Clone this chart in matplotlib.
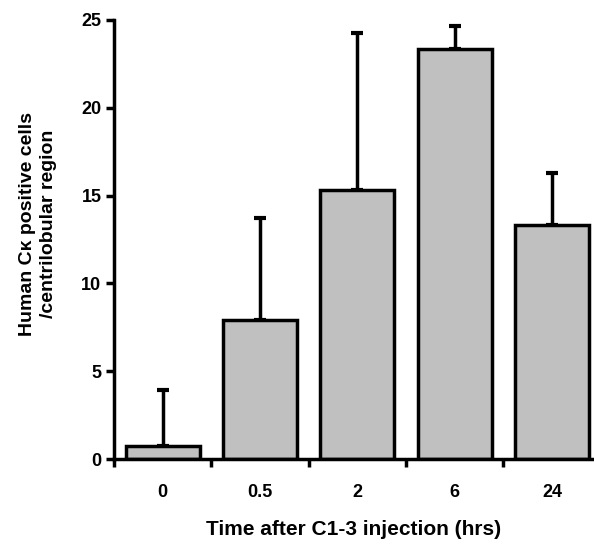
import numpy as np
import matplotlib
matplotlib.use("Agg")
import matplotlib.pyplot as plt

plt.rcParams['font.family'] = ['Liberation Sans', 'DejaVu Sans']

# data
times = ["0", "0.5", "2", "6", "24"]
means = [0.76, 7.9, 15.3, 23.35, 13.3]
upper = [3.93, 13.7, 24.25, 24.65, 16.27]

errs = np.array(upper) - np.array(means)
x = np.arange(len(times))

fig = plt.figure(figsize=(5.94, 5.49), dpi=100)
ax = fig.add_axes([114/594, 90/549, 480/594, 439/549])

ax.bar(x, means, width=0.76, color="#c0c0c0", edgecolor="black", linewidth=2.5, zorder=2)
ax.errorbar(x, means, yerr=[np.zeros(len(x)), errs], fmt="none", ecolor="black",
            elinewidth=2.5, capsize=4.5, capthick=3, zorder=1)

ax.set_xlim(-0.5, 4.43)
ax.set_ylim(0, 25)
ax.set_yticks([0, 5, 10, 15, 20, 25])

ax.set_xticks(x)
ax.set_xticklabels(times)
ax.set_xticks(np.arange(-0.5, 4, 1), minor=True)
ax.tick_params(axis="x", which="major", length=0, pad=18)
ax.tick_params(axis="x", which="minor", length=6, width=2.5, direction="out")
ax.tick_params(axis="y", length=6, width=2.5, direction="out", pad=3)

for lab in ax.get_xticklabels() + ax.get_yticklabels():
    lab.set_fontsize(13)
    lab.set_fontweight("bold")

ax.spines["top"].set_visible(False)
ax.spines["right"].set_visible(False)
ax.spines["left"].set_linewidth(2.5)
ax.spines["bottom"].set_linewidth(2.5)

ax.set_xlabel("Time after C1-3 injection (hrs)", fontsize=15, fontweight="bold", labelpad=14)
ax.set_ylabel("Human C\u03ba positive cells\n/centrilobular region", fontsize=14,
              fontweight="bold", linespacing=1.3)
ax.yaxis.set_label_coords(-0.118, 0.535)

fig.savefig("out.png", dpi=100)
